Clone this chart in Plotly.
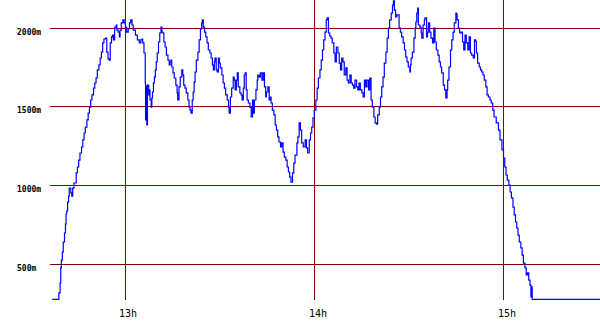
import plotly.graph_objects as go

# time in minutes after 12:00, elevation in metres
minutes = [
    36.8, 38.8, 38.9, 39.3, 39.5, 39.7, 40.0, 40.3, 40.7, 41.0, 41.2, 41.4, 41.7, 42.0, 42.2, 42.7, 43.0, 43.3, 43.7, 44.4,
    44.8, 45.2, 45.6, 46.1, 46.5, 46.9, 47.3, 47.8, 48.2, 48.6, 49.0, 49.4, 49.9, 50.3, 50.7, 51.1, 51.6, 52.0, 52.4, 52.8,
    53.2, 53.7, 54.1, 54.5, 54.9, 55.2, 55.6, 55.9, 56.2, 56.6, 57.1, 57.3, 57.7, 58.1, 58.3, 58.7, 59.2, 59.6, 60.0, 60.4,
    60.9, 61.3, 61.7, 62.1, 62.5, 63.2, 63.8, 64.4, 64.9, 65.3, 65.5, 65.9, 66.3, 66.4, 66.6, 66.8, 67.0, 67.4, 67.6, 67.8,
    68.2, 68.4, 68.6, 68.9, 69.2, 69.5, 69.8, 70.1, 70.5, 70.9, 71.3, 71.6, 71.9, 72.2, 72.6, 73.0, 73.5, 73.9, 74.2, 74.5,
    74.7, 75.1, 75.5, 76.0, 76.4, 76.6, 77.0, 77.4, 77.9, 78.2, 78.5, 78.9, 79.3, 79.8, 80.2, 80.5, 80.8, 81.2, 81.5, 81.8,
    82.1, 82.5, 83.0, 83.4, 83.8, 84.2, 84.4, 84.7, 85.1, 85.5, 85.9, 86.3, 86.8, 87.2, 87.6, 87.9, 88.2, 88.4, 88.8, 89.1,
    89.5, 89.8, 90.1, 90.6, 91.0, 91.4, 91.8, 92.3, 92.7, 92.9, 93.3, 93.7, 94.2, 94.5, 94.8, 95.2, 95.5, 95.8, 96.3, 96.7,
    97.0, 97.4, 97.7, 98.0, 98.3, 98.6, 99.0, 99.5, 99.9, 100.3, 100.6, 100.9, 101.4, 101.8, 102.0, 102.4, 102.8, 103.3, 103.7, 104.1,
    104.5, 104.7, 105.2, 105.6, 106.0, 106.2, 106.6, 107.1, 107.5, 107.9, 108.3, 108.7, 109.2, 109.6, 110.0, 110.4, 110.9, 111.3, 111.7, 112.1,
    112.5, 113.0, 113.4, 113.8, 114.4, 114.7, 115.1, 115.5, 115.9, 116.4, 117.0, 117.4, 117.8, 118.3, 118.7, 119.1, 119.5, 119.9, 120.4, 120.8,
    121.2, 121.7, 122.1, 122.5, 122.9, 123.3, 123.7, 124.0, 124.4, 124.8, 125.2, 125.6, 126.1, 126.5, 126.9, 127.4, 127.8, 128.2, 128.6, 129.0,
    129.4, 129.9, 130.3, 130.7, 131.2, 131.6, 132.0, 132.4, 132.8, 133.3, 133.7, 134.1, 134.5, 135.0, 135.4, 135.8, 136.2, 136.6, 137.1, 137.5,
    137.9, 138.3, 138.8, 139.2, 139.6, 140.0, 140.5, 140.9, 141.3, 141.7, 142.1, 142.6, 143.0, 143.4, 143.8, 144.3, 144.7, 145.0, 145.3, 145.7,
    146.1, 146.6, 146.8, 147.2, 147.6, 148.1, 148.5, 148.9, 149.3, 149.7, 150.2, 150.4, 150.6, 151.0, 151.5, 151.9, 152.1, 152.4, 152.7, 152.9,
    153.4, 153.8, 154.0, 154.4, 154.8, 155.0, 155.5, 155.8, 156.1, 156.5, 156.9, 157.4, 157.8, 158.2, 158.6, 159.1, 159.5, 159.9, 160.3, 160.8,
    161.2, 161.6, 162.0, 162.2, 162.6, 163.1, 163.5, 163.9, 164.3, 164.8, 165.0, 165.2, 165.6, 166.0, 166.5, 166.9, 167.3, 167.7, 168.1, 168.6,
    169.0, 169.4, 169.8, 170.3, 170.7, 171.0, 171.3, 171.7, 172.2, 172.6, 173.0, 173.4, 173.8, 174.3, 174.7, 175.1, 175.6, 176.0, 176.5, 176.9,
    177.6, 178.3, 178.8, 179.4, 179.9, 180.3, 180.7, 181.1, 181.6, 182.0, 182.4, 182.9, 183.3, 183.7, 184.1, 184.5, 184.9, 185.4, 185.8, 186.2,
    186.7, 187.1, 187.5, 187.9, 188.3, 188.6, 188.7, 189.0, 210.5,
]
elevation = [
    276, 276, 317, 380, 476, 526, 577, 641, 698, 755, 819, 838, 895, 933, 984, 953, 933, 984, 1016, 1080,
    1118, 1162, 1207, 1245, 1290, 1334, 1372, 1417, 1461, 1499, 1544, 1576, 1620, 1652, 1684, 1735, 1767, 1811, 1849, 1907,
    1932, 1938, 1849, 1805, 1798, 1907, 1945, 1957, 1926, 2008, 2021, 1989, 1976, 1945, 1989, 2034, 2053, 2034, 2008, 1976,
    1996, 2034, 2053, 2021, 1989, 1957, 1926, 1907, 1926, 1932, 1907, 1843, 1652, 1417, 1633, 1385, 1639, 1576, 1608, 1544,
    1499, 1557, 1595, 1652, 1690, 1735, 1786, 1843, 1913, 1970, 2008, 1976, 1970, 1913, 1881, 1830, 1798, 1767, 1786, 1798,
    1754, 1716, 1684, 1639, 1589, 1544, 1627, 1690, 1735, 1703, 1639, 1620, 1589, 1544, 1499, 1480, 1461, 1544, 1595, 1658,
    1722, 1798, 1849, 1926, 1996, 2034, 2053, 2008, 1976, 1945, 1907, 1862, 1843, 1811, 1767, 1735, 1786, 1811, 1735, 1722,
    1811, 1779, 1748, 1703, 1652, 1620, 1576, 1544, 1499, 1461, 1563, 1620, 1690, 1671, 1608, 1671, 1716, 1627, 1589, 1576,
    1544, 1620, 1703, 1716, 1608, 1544, 1525, 1499, 1436, 1544, 1461, 1544, 1608, 1671, 1703, 1690, 1716, 1671, 1716, 1627,
    1563, 1595, 1627, 1544, 1563, 1525, 1480, 1449, 1385, 1353, 1309, 1277, 1245, 1271, 1213, 1181, 1162, 1118, 1086, 1054,
    1022, 1080, 1143, 1194, 1271, 1309, 1398, 1353, 1271, 1245, 1290, 1239, 1207, 1290, 1334, 1372, 1430, 1480, 1544, 1620,
    1684, 1735, 1798, 1862, 1926, 1976, 2053, 2066, 1970, 1951, 1938, 1907, 1843, 1786, 1881, 1843, 1779, 1735, 1811, 1786,
    1703, 1748, 1671, 1652, 1703, 1652, 1639, 1620, 1671, 1627, 1608, 1652, 1608, 1589, 1563, 1671, 1627, 1671, 1608, 1684,
    1544, 1499, 1436, 1398, 1391, 1449, 1499, 1563, 1627, 1690, 1779, 1849, 1938, 2002, 2053, 2097, 2148, 2174, 2116, 2072,
    2085, 2085, 2002, 1976, 1945, 1907, 1862, 1817, 1786, 1754, 1722, 1767, 1811, 1849, 1938, 2002, 2040, 2097, 2129, 2021,
    2008, 1970, 1938, 2021, 2053, 2066, 1945, 1976, 2034, 1976, 1938, 1907, 2002, 1913, 1862, 1830, 1786, 1754, 1716, 1639,
    1608, 1557, 1608, 1671, 1754, 1862, 1926, 1976, 2034, 2097, 2091, 2053, 2002, 1970, 1976, 1913, 1862, 1957, 1907, 1862,
    1945, 1843, 1830, 1811, 1926, 1919, 1843, 1779, 1754, 1735, 1722, 1703, 1671, 1627, 1576, 1563, 1544, 1525, 1480, 1436,
    1398, 1353, 1290, 1226, 1175, 1118, 1067, 1035, 1003, 959, 921, 863, 813, 768, 730, 685, 641, 603, 558, 507,
    476, 431, 444, 399, 367, 291, 355, 276, 276,
]

x_ticks = [60, 120, 180]
x_labels = ["13h", "14h", "15h"]
y_ticks = [500, 1000, 1500, 2000]
y_labels = ["500m", "1000m", "1500m", "2000m"]

fig = go.Figure()
fig.add_trace(go.Scatter(
    x=minutes, y=elevation, mode="lines",
    line=dict(color="#0000ff", width=1.2, shape="hv"),
    hoverinfo="skip",
))

annotations = []
for v, t in zip(y_ticks, y_labels):
    annotations.append(dict(
        x=(15 - 50) / 550, xref="paper", y=v, yref="y",
        text="<b>" + t + "</b>", showarrow=False, xanchor="left", yanchor="middle",
        yshift=-4, font=dict(family="DejaVu Sans Mono", size=8, color="#000000"),
    ))
for v, t in zip(x_ticks, x_labels):
    annotations.append(dict(
        x=v, xref="x", y=0, yref="paper",
        text=t, showarrow=False, xanchor="center", yanchor="middle",
        xshift=3, yshift=-13, font=dict(family="DejaVu Sans Mono", size=10, color="#000000"),
    ))

fig.update_layout(
    width=600, height=330,
    margin=dict(l=50, r=0, t=0, b=30),
    paper_bgcolor="#ffffff", plot_bgcolor="#ffffff",
    showlegend=False,
    annotations=annotations,
    xaxis=dict(
        range=[36.1, 210.5], tickvals=x_ticks, showticklabels=False,
        showgrid=True, gridcolor="#800000", gridwidth=1,
        zeroline=False, showline=False, ticks="", fixedrange=True,
    ),
    yaxis=dict(
        range=[272, 2180], tickvals=y_ticks, showticklabels=False,
        showgrid=True, gridcolor="#800000", gridwidth=1,
        zeroline=False, showline=False, ticks="", fixedrange=True,
    ),
)

fig.write_html("out.html", config={"displayModeBar": False})
